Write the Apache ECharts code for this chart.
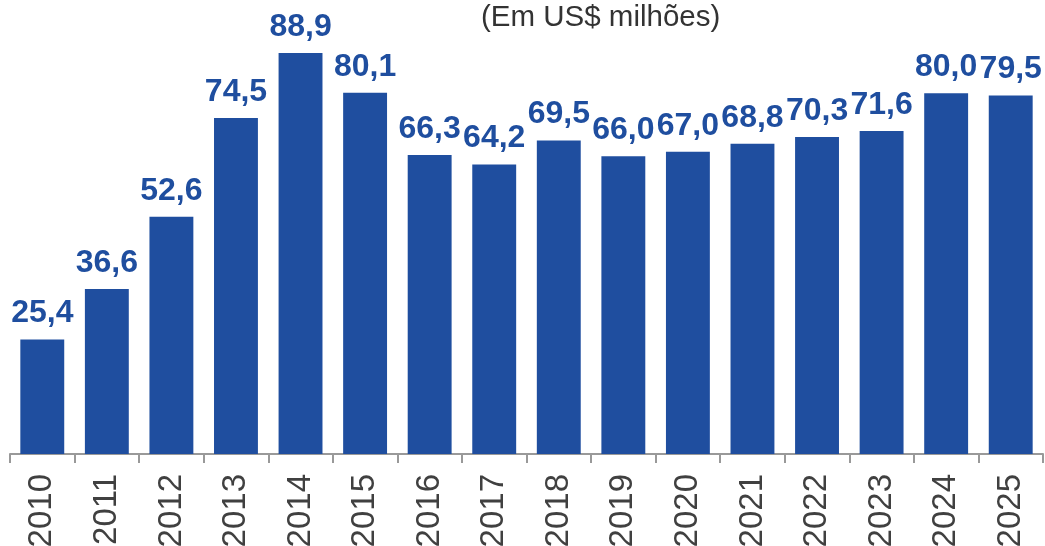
<!DOCTYPE html>
<html>
<head>
<meta charset="utf-8">
<script src="https://cdn.jsdelivr.net/npm/echarts@6/dist/echarts.min.js"></script>
<style>html,body{margin:0;padding:0;background:#fff;}#c{width:1045px;height:546px;}</style>
</head>
<body>
<div id="c"></div>
<script>
const categories = ['2010','2011','2012','2013','2014','2015','2016','2017','2018','2019','2020','2021','2022','2023','2024','2025'];
const values = [25.4, 36.6, 52.6, 74.5, 88.9, 80.1, 66.3, 64.2, 69.5, 66.0, 67.0, 68.8, 70.3, 71.6, 80.0, 79.5];
const titleText = '(Em US$ milhões)';

const chart = echarts.init(document.getElementById('c'), null, {renderer: 'canvas'});
chart.setOption({
  animation: false,
  backgroundColor: '#ffffff',
  textStyle: {fontFamily: '"Liberation Sans", Arial, sans-serif'},
  graphic: [{
    type: 'text',
    left: 481,
    top: 3,
    style: {text: titleText, fill: '#333333', fontSize: 29.5, fontFamily: '"Liberation Sans", Arial, sans-serif'}
  }],
  grid: {left: 10, right: 2, top: 3, bottom: 92, containLabel: false, outerBoundsMode: 'none'},
  xAxis: {
    type: 'category',
    data: categories,
    boundaryGap: true,
    axisLine: {lineStyle: {color: '#999999', width: 2}},
    axisTick: {show: true, length: 9, lineStyle: {color: '#999999', width: 2}},
    axisLabel: {rotate: 90, margin: 20, fontSize: 33, color: '#404040', fontFamily: '"Liberation Sans", Arial, sans-serif', interval: 0}
  },
  yAxis: {
    type: 'value', min: 0, max: 100, show: false,
    splitLine: {show: false}
  },
  series: [{
    type: 'bar',
    data: values,
    barCategoryGap: '32%',
    itemStyle: {color: '#1F4E9F'},
    label: {
      show: true, position: 'top', distance: 10,
      formatter: p => p.value.toFixed(1).replace('.', ','),
      fontSize: 32, fontWeight: 'bold', color: '#1F4E9F',
      fontFamily: '"Liberation Sans", Arial, sans-serif'
    }
  }]
});
</script>
</body>
</html>
